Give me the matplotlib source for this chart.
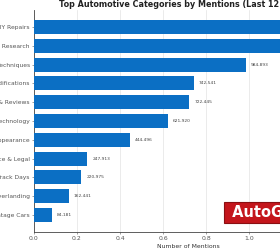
import matplotlib
matplotlib.use("Agg")
import matplotlib.pyplot as plt

categories = [
    "Maintenance & DIY Repairs",
    "Car Buying Research",
    "Driving Techniques",
    "Performance Modifications",
    "Car News & Reviews",
    "Automotive Technology",
    "Detailing & Appearance",
    "Insurance & Legal",
    "Racing & Track Days",
    "Off-roading & Overlanding",
    "Classic & Vintage Cars",
]
mentions = [1312000, 1205000, 984893, 742541, 722445, 621920,
            444496, 247913, 220975, 162441, 84181]

fig = plt.figure(figsize=(2.8, 2.5), dpi=100)
ax = fig.add_axes([0.121, 0.072, 1.107, 0.888])

y = range(len(categories))
ax.barh(y, mentions, height=0.75, color="#0b6fc4", zorder=3)
ax.invert_yaxis()
ax.set_yticks(list(y))
ax.set_yticklabels(categories, fontsize=4.3, color="#333333")

for i, v in enumerate(mentions):
    ax.text(v + 23000, i, f"{v:,}", va="center", ha="left",
            fontsize=3.2, color="#444444")

ax.set_xlim(0, 1.44e6)
ax.set_xticks([0, 0.2e6, 0.4e6, 0.6e6, 0.8e6, 1.0e6, 1.2e6, 1.4e6])
ax.set_xticklabels(["0.0", "0.2", "0.4", "0.6", "0.8", "1.0", "1.2", "1.4"],
                   fontsize=4.4, color="#333333")
ax.set_xlabel("Number of Mentions", fontsize=4.4, color="#333333", labelpad=2)
ax.set_title("Top Automotive Categories by Mentions (Last 12 Months)",
             fontsize=5.8, fontweight="bold", color="#222222", pad=2)

ax.grid(axis="x", color="#e3e3e3", linewidth=0.5, zorder=0)
ax.tick_params(length=1.5, width=0.4, pad=1.5, colors="#555555")
for s in ["top", "right"]:
    ax.spines[s].set_visible(False)
for s in ["left", "bottom"]:
    ax.spines[s].set_linewidth(0.6)
    ax.spines[s].set_color("#444444")

# watermark
fig.text(0.812, 0.15, " AutoGuide ", fontsize=10.5, fontweight="bold",
         color="white", ha="left", va="center",
         bbox=dict(boxstyle="square,pad=0.22", facecolor="#c4161c",
                   edgecolor="#8a0f12", linewidth=0.8))

fig.savefig("out.png", dpi=100)
